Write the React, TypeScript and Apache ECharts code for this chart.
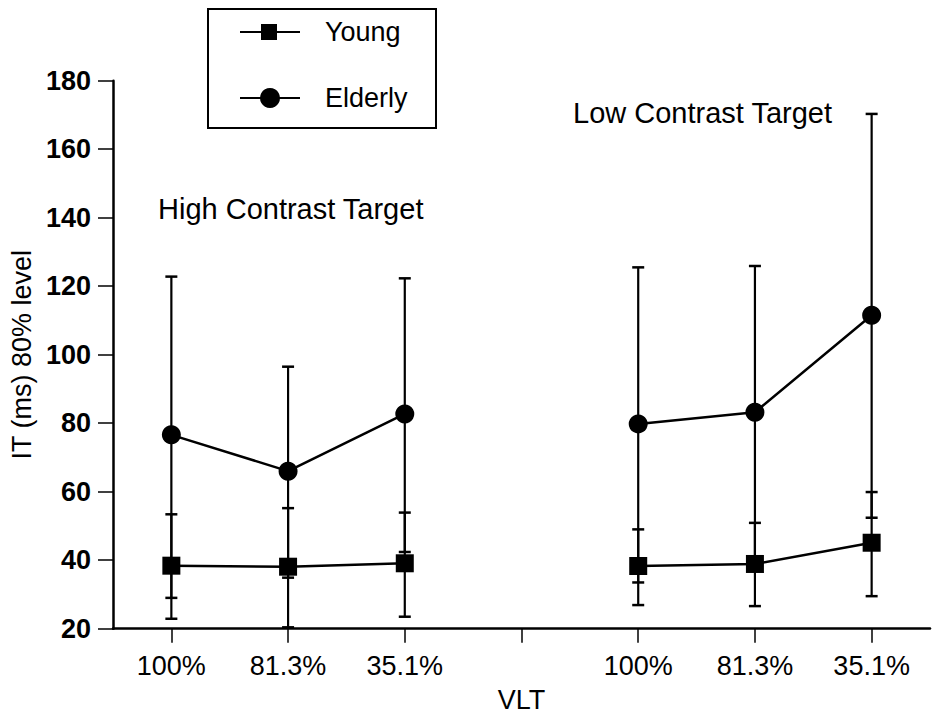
import React, { useEffect, useRef } from "react";
import * as echarts from "echarts";

const categories = ["100%", "81.3%", "35.1%", "", "100%", "81.3%", "35.1%"];
const youngMean = [38.4, 38.1, 39.1, null, 38.3, 38.9, 45.1];
const youngLow = [22.9, 20.4, 23.5, null, 26.9, 26.6, 29.5];
const youngHigh = [53.4, 55.2, 53.9, null, 49.0, 50.9, 59.9];
const elderlyMean = [76.6, 66.0, 82.7, null, 79.8, 83.2, 111.5];
const elderlyLow = [29.0, 34.9, 42.4, null, 33.5, 40.5, 52.4];
const elderlyHigh = [122.8, 96.5, 122.3, null, 125.5, 125.9, 170.3];
const yTicks = [20, 40, 60, 80, 100, 120, 140, 160, 180];
const seriesNames = ["Young", "Elderly"];
const annotations = ["High Contrast Target", "Low Contrast Target"];

const FONT = "Liberation Sans, Arial, sans-serif";

function errData(low: (number | null)[], high: (number | null)[]) {
  const out: number[][] = [];
  low.forEach((l, i) => {
    const h = high[i];
    if (l != null && h != null) out.push([i, l, h]);
  });
  return out;
}

function renderErr(params: any, api: any) {
  const x = api.value(0);
  const top = api.coord([x, api.value(2)]);
  const bot = api.coord([x, api.value(1)]);
  const hw = 6;
  const st = { stroke: "#000", lineWidth: 2.2 };
  return {
    type: "group",
    children: [
      { type: "line", shape: { x1: top[0], y1: top[1], x2: bot[0], y2: bot[1] }, style: st },
      { type: "line", shape: { x1: top[0] - hw, y1: top[1], x2: top[0] + hw, y2: top[1] }, style: { stroke: "#000", lineWidth: 2.5 } },
      { type: "line", shape: { x1: bot[0] - hw, y1: bot[1], x2: bot[0] + hw, y2: bot[1] }, style: { stroke: "#000", lineWidth: 2.5 } },
    ],
  };
}

export default function App() {
  const ref = useRef<HTMLDivElement>(null);
  useEffect(() => {
    if (!ref.current) return;
    const chart = echarts.init(ref.current, null, { renderer: "svg" });
    const option: any = {
      animation: false,
      backgroundColor: "#fff",
      textStyle: { fontFamily: FONT, color: "#000" },
      grid: { left: 113, right: 6, top: 80.7, bottom: 86.3, containLabel: false, outerBoundsMode: "none" },
      xAxis: {
        type: "category",
        data: categories,
        boundaryGap: true,
        name: "VLT",
        nameLocation: "middle",
        nameGap: 58,
        nameTextStyle: { fontSize: 27, lineHeight: 27, color: "#000", fontFamily: FONT },
        axisLine: { lineStyle: { color: "#000", width: 2.5 } },
        axisTick: { show: true, alignWithLabel: true, length: 14, lineStyle: { color: "#000", width: 1.5 } },
        axisLabel: { fontSize: 27, color: "#000", margin: 24, fontFamily: FONT },
        splitLine: { show: false },
      },
      yAxis: {
        type: "value",
        min: yTicks[0],
        max: yTicks[yTicks.length - 1],
        interval: 20,
        name: "IT (ms) 80% level",
        nameLocation: "middle",
        nameGap: 76,
        nameTextStyle: { fontSize: 27, color: "#000", fontFamily: FONT },
        axisLine: { show: true, lineStyle: { color: "#000", width: 2.5 } },
        axisTick: { show: true, length: 15, lineStyle: { color: "#000", width: 1.5 } },
        axisLabel: { fontSize: 27, color: "#000", margin: 22, fontFamily: FONT, fontWeight: "bold" },
        splitLine: { show: false },
      },
      series: [
        {
          type: "custom",
          name: "Young error",
          renderItem: renderErr,
          data: errData(youngLow, youngHigh),
          z: 1,
          silent: true,
        },
        {
          type: "custom",
          name: "Elderly error",
          renderItem: renderErr,
          data: errData(elderlyLow, elderlyHigh),
          z: 1,
          silent: true,
        },
        {
          type: "line",
          name: seriesNames[0],
          data: youngMean.map((v) => (v == null ? "-" : v)),
          symbol: "rect",
          symbolSize: 18,
          connectNulls: false,
          itemStyle: { color: "#000" },
          lineStyle: { color: "#000", width: 2.5 },
          z: 3,
        },
        {
          type: "line",
          name: seriesNames[1],
          data: elderlyMean.map((v) => (v == null ? "-" : v)),
          symbol: "circle",
          symbolSize: 19,
          connectNulls: false,
          itemStyle: { color: "#000" },
          lineStyle: { color: "#000", width: 2.5 },
          z: 3,
        },
      ],
      graphic: [
        {
          type: "rect",
          shape: { x: 208, y: 9, width: 228, height: 119 },
          style: { fill: "#fff", stroke: "#000", lineWidth: 2 },
          z: 10,
        },
        { type: "line", shape: { x1: 240, y1: 32, x2: 300, y2: 32 }, style: { stroke: "#000", lineWidth: 2.2 }, z: 11 },
        { type: "rect", shape: { x: 261, y: 24, width: 16, height: 16 }, style: { fill: "#000" }, z: 11 },
        { type: "text", x: 325, y: 32, style: { text: seriesNames[0], font: `27px ${FONT}`, fill: "#000", textVerticalAlign: "middle" }, z: 11 },
        { type: "line", shape: { x1: 240, y1: 98, x2: 300, y2: 98 }, style: { stroke: "#000", lineWidth: 2.2 }, z: 11 },
        { type: "circle", shape: { cx: 270, cy: 98, r: 10 }, style: { fill: "#000" }, z: 11 },
        { type: "text", x: 325, y: 98, style: { text: seriesNames[1], font: `27px ${FONT}`, fill: "#000", textVerticalAlign: "middle" }, z: 11 },
        { type: "text", x: 158, y: 209, style: { text: annotations[0], font: `29px ${FONT}`, fill: "#000", textVerticalAlign: "middle" }, z: 11 },
        { type: "text", x: 573, y: 113, style: { text: annotations[1], font: `29px ${FONT}`, fill: "#000", textVerticalAlign: "middle" }, z: 11 },
      ],
    };
    chart.setOption(option);
    return () => chart.dispose();
  }, []);
  return <div ref={ref} style={{ width: 936, height: 715, position: "absolute", left: 0, top: 0 }} />;
}
